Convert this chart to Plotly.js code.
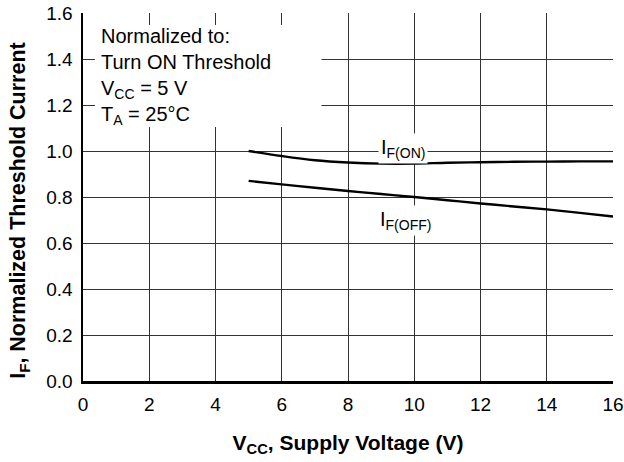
<!DOCTYPE html>
<html>
<head>
<meta charset="utf-8">
<script src="https://cdn.plot.ly/plotly-3.0.1.min.js"></script>
<style>html,body{margin:0;padding:0;background:#fff;}#chart{width:624px;height:462px;}</style>
</head>
<body>
<div id="chart"></div>
<script>
// Supply voltage (V)
const vccOn = [5, 6, 7, 8, 9, 10, 11, 12, 13, 14, 15, 16];
const ifOn = [1.0, 0.978, 0.96, 0.95, 0.945, 0.945, 0.949, 0.951, 0.953, 0.954, 0.955, 0.955];
const vccOff = [5, 6, 7, 8, 9, 10, 11, 12, 13, 14, 15, 16];
const ifOff = [0.87, 0.855, 0.84, 0.826, 0.813, 0.80, 0.786, 0.772, 0.759, 0.746, 0.731, 0.715];
const xTicks = [0, 2, 4, 6, 8, 10, 12, 14, 16];
const yTicks = [0.0, 0.2, 0.4, 0.6, 0.8, 1.0, 1.2, 1.4, 1.6];
const yTickText = yTicks.map(v => v.toFixed(1));
const noteLines = ["Normalized to:", "Turn ON Threshold", "V<sub>CC</sub> = 5 V", "T<sub>A</sub> = 25°C"];
const xTitle = "<b>V<sub>CC</sub>, Supply Voltage (V)</b>";
const yTitle = "<b>I<sub>F</sub>, Normalized Threshold Current</b>";

const font = "Liberation Sans, Arial, Helvetica, sans-serif";

const traces = [
  {x: vccOn, y: ifOn, mode: "lines", line: {color: "#000", width: 2.4, shape: "spline"}, name: "IF(ON)", hoverinfo: "skip"},
  {x: vccOff, y: ifOff, mode: "lines", line: {color: "#000", width: 2.4, shape: "spline"}, name: "IF(OFF)", hoverinfo: "skip"}
];

const layout = {
  width: 624, height: 462,
  margin: {l: 83, r: 11, t: 13, b: 81},
  paper_bgcolor: "#fff", plot_bgcolor: "#fff",
  showlegend: false,
  font: {family: font, color: "#000", size: 19},
  xaxis: {
    range: [0, 16], tickvals: xTicks, ticktext: xTicks.map(String),
    showgrid: true, gridcolor: "#333", gridwidth: 1,
    showline: true, linecolor: "#000", linewidth: 2.5,
    zeroline: false, ticks: "", ticklabelstandoff: 5,
    tickfont: {size: 19, family: font},
    title: {text: xTitle, font: {size: 21, family: font}, standoff: 21}
  },
  yaxis: {
    range: [0, 1.6], tickvals: yTicks, ticktext: yTickText,
    showgrid: true, gridcolor: "#333", gridwidth: 1,
    showline: true, linecolor: "#000", linewidth: 2.5,
    zeroline: false, ticks: "", ticklabelstandoff: 4,
    tickfont: {size: 19, family: font}
  },
  shapes: [
    {type: "rect", xref: "x", yref: "y", x0: 0.36, x1: 7.2, y0: 1.104, y1: 1.548,
     fillcolor: "#fff", line: {width: 0}, layer: "above"}
  ],
  annotations: [
    {xref: "paper", yref: "paper", x: -0.119, y: 0.465, xanchor: "center", yanchor: "middle",
     text: yTitle, textangle: -90, showarrow: false, font: {size: 21.5, family: font}},
    {xref: "x", yref: "y", x: 0.48, y: 1.556, xanchor: "left", yanchor: "top", align: "left",
     text: noteLines.join("<br>"), showarrow: false, font: {size: 20, family: font}},
    {xref: "x", yref: "y", x: 9.67, y: 1.01, text: "I<sub>F(ON)</sub>", showarrow: false,
     bgcolor: "#fff", borderpad: 2, font: {size: 20, family: font}},
    {xref: "x", yref: "y", x: 9.75, y: 0.70, text: "I<sub>F(OFF)</sub>", showarrow: false,
     bgcolor: "#fff", borderpad: 2, font: {size: 20, family: font}}
  ]
};

Plotly.newPlot("chart", traces, layout, {staticPlot: true, displayModeBar: false});
</script>
</body>
</html>
